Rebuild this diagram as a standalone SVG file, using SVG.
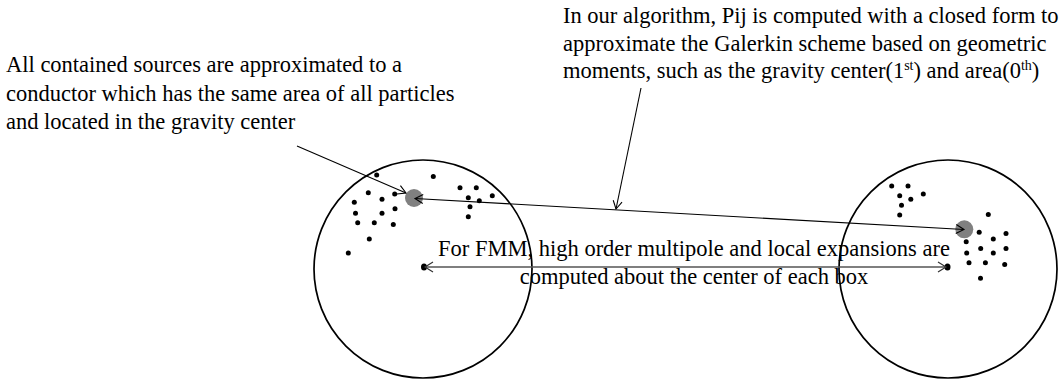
<svg xmlns="http://www.w3.org/2000/svg" width="1064" height="379" viewBox="0 0 1064 379">
<style>
text{font-family:"Liberation Serif","Times New Roman",serif;font-size:22.5px;fill:#000}
.box{fill:none;stroke:#000;stroke-width:1.7}
.p{fill:#000}
.cond{fill:#808080}
.ln{fill:none;stroke:#000;stroke-width:1.1}
.fmm{fill:none;stroke:#555;stroke-width:1.6}
</style>
<defs>
<marker id="ah" viewBox="-10 -6 12 12" markerWidth="12" markerHeight="12" markerUnits="userSpaceOnUse" orient="auto-start-reverse" refX="0" refY="0">
<path d="M-8,-4.5 L0,0 L-8,4.5" fill="none" stroke="#000" stroke-width="1.1"/>
</marker>
<marker id="ahg" viewBox="-10 -6 12 12" markerWidth="12" markerHeight="12" markerUnits="userSpaceOnUse" orient="auto-start-reverse" refX="0" refY="0">
<path d="M-8,-5 L0,0 L-8,5" fill="none" stroke="#333" stroke-width="1.2"/>
</marker>
</defs>

<g id="box-left">
<circle class="box" cx="423" cy="269" r="109"/>
<g class="p">
<circle cx="376.7" cy="175" r="2.5"/><circle cx="433.3" cy="176.5" r="2.5"/>
<circle cx="368.3" cy="192.7" r="2.5"/><circle cx="394.7" cy="194" r="2.5"/>
<circle cx="354.3" cy="202.3" r="2.5"/><circle cx="382" cy="199.2" r="2.5"/>
<circle cx="355.5" cy="213.3" r="2.5"/><circle cx="382" cy="213.3" r="2.5"/>
<circle cx="395" cy="208.7" r="2.5"/><circle cx="357.7" cy="222.7" r="2.5"/>
<circle cx="374.3" cy="222.7" r="2.5"/><circle cx="393.3" cy="224.5" r="2.5"/>
<circle cx="369.3" cy="239" r="2.5"/><circle cx="348.3" cy="253" r="2.5"/>
<circle cx="460" cy="187.7" r="2.5"/><circle cx="476.3" cy="187.7" r="2.5"/>
<circle cx="468.3" cy="197.7" r="2.5"/><circle cx="479.3" cy="200.7" r="2.5"/>
<circle cx="492.3" cy="195.7" r="2.5"/><circle cx="470" cy="206.8" r="2.5"/>
<circle cx="468.3" cy="216.7" r="2.5"/>
<ellipse cx="424" cy="267" rx="3" ry="3.5"/>
</g>
<circle class="cond" cx="414" cy="198" r="9"/>
</g>

<g id="box-right">
<circle class="box" cx="948" cy="269" r="109"/>
<g class="p">
<circle cx="891.7" cy="186" r="2.5"/><circle cx="908" cy="186" r="2.5"/>
<circle cx="899.7" cy="195.7" r="2.5"/><circle cx="910.8" cy="199.2" r="2.5"/>
<circle cx="923.3" cy="194" r="2.5"/><circle cx="901.5" cy="205.3" r="2.5"/>
<circle cx="899.7" cy="215" r="2.5"/><circle cx="988.3" cy="214.6" r="2.5"/>
<circle cx="979.2" cy="232.2" r="2.5"/><circle cx="1006" cy="233.6" r="2.5"/>
<circle cx="993.3" cy="239" r="2.5"/><circle cx="966.2" cy="241.8" r="2.5"/>
<circle cx="980.7" cy="248.5" r="2.5"/><circle cx="1006" cy="248.5" r="2.5"/>
<circle cx="993.3" cy="253" r="2.5"/><circle cx="966.7" cy="253" r="2.5"/>
<circle cx="969" cy="262.7" r="2.5"/><circle cx="985.4" cy="262.7" r="2.5"/>
<circle cx="1004.7" cy="264.5" r="2.5"/><circle cx="980.5" cy="278.3" r="2.5"/>
<ellipse cx="947.5" cy="267" rx="3" ry="3.5"/>
</g>
<circle class="cond" cx="964.3" cy="229.3" r="9"/>
</g>

<g id="label-sources">
<text x="6" y="72">All contained sources are approximated to a</text>
<text x="6" y="100.5">conductor which has the same area of all particles</text>
<text x="6" y="129">and located in the gravity center</text>
</g>

<g id="label-pij">
<text x="563" y="23">In our algorithm, Pij is computed with a closed form to</text>
<text x="563" y="50.5">approximate the Galerkin scheme based on geometric</text>
<text x="563" y="78">moments, such as the gravity center(1<tspan font-size="14" dy="-8">st</tspan><tspan dy="8">) and area(0</tspan><tspan font-size="14" dy="-8">th</tspan><tspan dy="8">)</tspan></text>
</g>

<g id="label-fmm">
<text x="694" y="256" text-anchor="middle">For FMM, high order multipole and local expansions are</text>
<text x="694" y="284" text-anchor="middle">computed about the center of each box</text>
</g>

<g id="connectors">
<line class="ln" x1="297" y1="146" x2="406" y2="193" marker-end="url(#ah)"/>
<line class="ln" x1="641" y1="88" x2="616" y2="209" marker-end="url(#ah)"/>
<line class="ln" x1="415" y1="198.5" x2="964" y2="229.5" marker-start="url(#ah)" marker-end="url(#ah)"/>
<line class="fmm" x1="425" y1="267" x2="946" y2="267" marker-start="url(#ahg)" marker-end="url(#ahg)"/>
</g>
</svg>
